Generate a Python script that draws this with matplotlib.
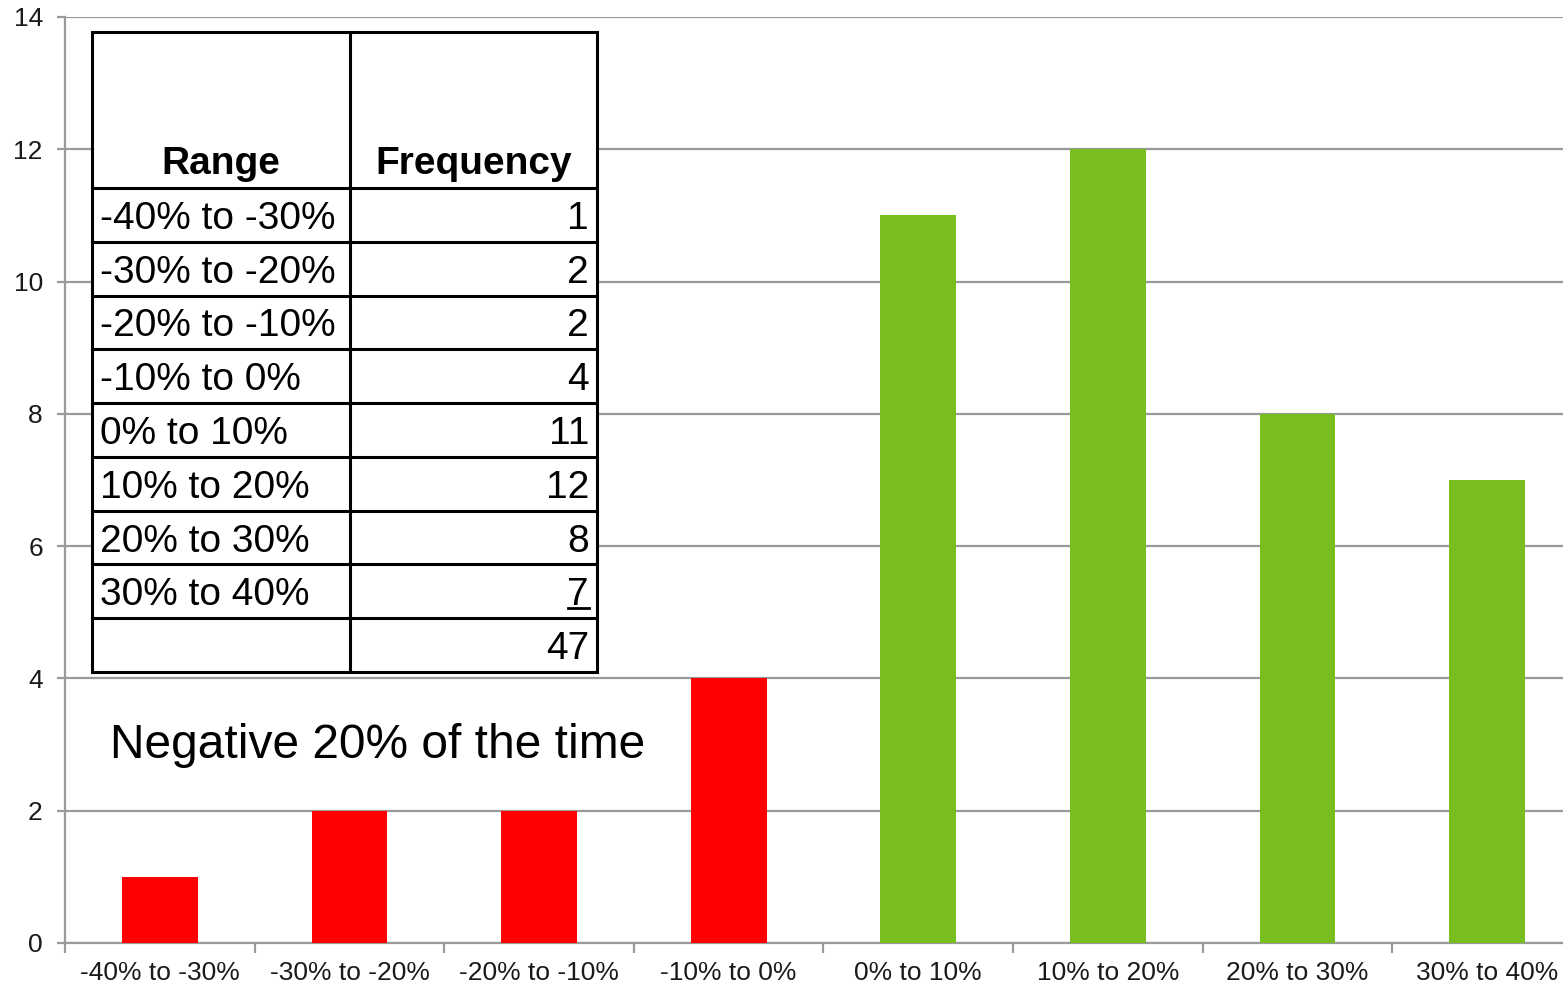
import numpy as np
import matplotlib.pyplot as plt
from matplotlib.patches import Rectangle
from matplotlib.lines import Line2D

plt.rcParams["font.family"] = ["Liberation Sans", "DejaVu Sans"]

ranges = ["-40% to -30%", "-30% to -20%", "-20% to -10%", "-10% to 0%",
          "0% to 10%", "10% to 20%", "20% to 30%", "30% to 40%"]
counts = [1, 2, 2, 4, 11, 12, 8, 7]
yticks = [0, 2, 4, 6, 8, 10, 12, 14]

RED = "#FF0000"
GREEN = "#78BE21"
GRID = "#9A9A9A"

W, H = 1563, 986
fig = plt.figure(figsize=(W / 100, H / 100), dpi=100)
# plot area runs a little past the right edge of the figure
ax = fig.add_axes([65 / W, 43 / H, (1582 - 65) / W, (943 - 17) / H])

x = np.arange(len(ranges))
colors = [RED if r.startswith("-") else GREEN for r in ranges]
ax.bar(x, counts, width=0.4, color=colors, zorder=3)

ax.set_xlim(-0.5, len(ranges) - 0.5)
ax.set_ylim(0, 14)
ax.set_yticks(yticks)
ax.set_xticks(x)
ax.set_xticklabels(ranges)
ax.set_xticks(np.arange(-0.5, len(ranges)), minor=True)
ax.grid(axis="y", color=GRID, lw=1.6, zorder=0)

for side in ["top", "right"]:
    ax.spines[side].set_visible(False)
for side in ["left", "bottom"]:
    ax.spines[side].set_color(GRID)
    ax.spines[side].set_linewidth(1.6)

ax.tick_params(axis="y", length=6, width=1.6, color=GRID, labelsize=19,
               pad=10, labelcolor="#1a1a1a")
ax.tick_params(axis="x", which="major", length=0, labelsize=19, pad=13,
               labelcolor="#1a1a1a")
ax.tick_params(axis="x", which="minor", length=7, width=1.6, color=GRID)


def fx(px):
    return px / W


def fy(py):
    return 1 - py / H


# frequency table drawn on top of the chart
x0, xm, x1 = 92, 350, 597
head_top, head_bot = 32, 188
row_h = (672 - head_bot) / (len(ranges) + 1)
lw = 2.2

fig.patches.append(Rectangle((fx(x0), fy(672)), fx(x1 - x0), (672 - head_top) / H,
                             transform=fig.transFigure, facecolor="white",
                             edgecolor="black", lw=lw, zorder=5))
edges = [head_bot + i * row_h for i in range(len(ranges) + 1)]
for ey in edges:
    fig.lines.append(Line2D([fx(x0), fx(x1)], [fy(ey), fy(ey)], color="black",
                            lw=lw, transform=fig.transFigure, zorder=6))
fig.lines.append(Line2D([fx(xm), fx(xm)], [fy(head_top), fy(672)], color="black",
                        lw=lw, transform=fig.transFigure, zorder=6))

fig.text(fx((x0 + xm) / 2), fy(head_bot - 6), "Range", ha="center", va="bottom",
         fontsize=28, fontweight="bold", zorder=7)
fig.text(fx((xm + x1) / 2), fy(head_bot - 6), "Frequency", ha="center", va="bottom",
         fontsize=28, fontweight="bold", zorder=7)

for i, (r, c) in enumerate(zip(ranges, counts)):
    cy = head_bot + (i + 0.5) * row_h
    fig.text(fx(x0 + 8), fy(cy), r, ha="left", va="center_baseline", fontsize=28,
             zorder=7)
    fig.text(fx(x1 - 8), fy(cy), str(c), ha="right", va="center_baseline",
             fontsize=28, zorder=7)

# underline under the last count, then the total
fig.lines.append(Line2D([fx(568), fx(589)], [fy(608), fy(608)], color="black",
                        lw=2, transform=fig.transFigure, zorder=7))
cy = head_bot + (len(ranges) + 0.5) * row_h
fig.text(fx(x1 - 8), fy(cy), str(sum(counts)), ha="right", va="center_baseline",
         fontsize=28, zorder=7)

neg_share = sum(c for c, r in zip(counts, ranges) if r.startswith("-")) / sum(counts)
fig.text(fx(110), fy(740), f"Negative {round(neg_share * 10) * 10}% of the time",
         ha="left", va="center_baseline", fontsize=34.5, zorder=7)

fig.savefig("out.png", dpi=100)
